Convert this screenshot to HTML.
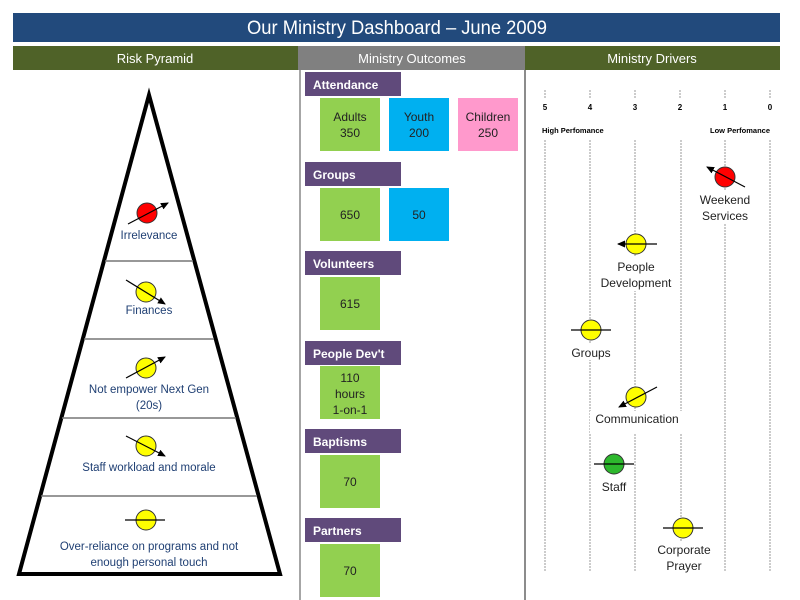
<!DOCTYPE html>
<html><head><meta charset="utf-8"><style>
html,body{margin:0;padding:0;background:#fff;}
svg{display:block;font-family:"Liberation Sans",sans-serif;}
</style></head><body>
<svg width="800" height="600" viewBox="0 0 800 600" xmlns="http://www.w3.org/2000/svg">
<defs>
<marker id="ah" markerWidth="8" markerHeight="8" refX="7" refY="4" orient="auto" markerUnits="userSpaceOnUse">
<path d="M0,0.5 L8,4 L0,7.5 z" fill="#000"/></marker>
</defs>
<rect x="0" y="0" width="800" height="600" fill="#fff"/>
<!-- title -->
<rect x="13" y="13" width="767" height="29" fill="#224a7c"/>
<text x="397" y="34" font-size="19" fill="#fff" text-anchor="middle" textLength="300" lengthAdjust="spacingAndGlyphs">Our Ministry Dashboard – June 2009</text>
<!-- section headers -->
<rect x="13" y="46" width="285" height="24" fill="#4f6228"/>
<rect x="298" y="46" width="227" height="24" fill="#808080"/>
<rect x="525" y="46" width="255" height="24" fill="#4f6228"/>
<text x="155" y="63" font-size="13" fill="#fff" text-anchor="middle">Risk Pyramid</text>
<text x="412" y="63" font-size="13" fill="#fff" text-anchor="middle">Ministry Outcomes</text>
<text x="652" y="63" font-size="13" fill="#fff" text-anchor="middle">Ministry Drivers</text>
<line x1="300" y1="70" x2="300" y2="600" stroke="#888" stroke-width="1.5"/>
<line x1="525" y1="70" x2="525" y2="600" stroke="#666" stroke-width="1.5"/>

<!-- pyramid -->
<polygon points="149,95 280,574 19,574" fill="#fff" stroke="#000" stroke-width="4" stroke-linejoin="miter"/>
<g stroke="#777" stroke-width="1.5">
<line x1="105" y1="261" x2="193" y2="261"/>
<line x1="84" y1="339" x2="214" y2="339"/>
<line x1="62" y1="418" x2="236" y2="418"/>
<line x1="41" y1="496" x2="257" y2="496"/>
</g>
<g fill="#1f3f73" font-size="11.5" text-anchor="middle">
<text x="149" y="239">Irrelevance</text>
<text x="149" y="314">Finances</text>
<text x="149" y="393">Not empower Next Gen</text>
<text x="149" y="409">(20s)</text>
<text x="149" y="471">Staff workload and morale</text>
<text x="149" y="550">Over-reliance on programs and not</text>
<text x="149" y="566">enough personal touch</text>
</g>
<g stroke="#333" stroke-width="1">
<circle cx="147" cy="213" r="10" fill="#f00"/>
<circle cx="146" cy="292" r="10" fill="#ff0"/>
<circle cx="146" cy="368" r="10" fill="#ff0"/>
<circle cx="146" cy="446" r="10" fill="#ff0"/>
<circle cx="146" cy="520" r="10" fill="#ff0"/>
</g>
<g stroke="#000" stroke-width="1.2">
<line x1="128" y1="224" x2="168" y2="203" marker-end="url(#ah)"/>
<line x1="126" y1="280" x2="165" y2="304" marker-end="url(#ah)"/>
<line x1="126" y1="378" x2="165" y2="357" marker-end="url(#ah)"/>
<line x1="126" y1="436" x2="165" y2="456" marker-end="url(#ah)"/>
<line x1="125" y1="520" x2="165" y2="520"/>
</g>

<!-- outcomes -->
<g fill="#604a7b">
<rect x="305" y="72" width="96" height="24"/>
<rect x="305" y="162" width="96" height="24"/>
<rect x="305" y="251" width="96" height="24"/>
<rect x="305" y="341" width="96" height="24"/>
<rect x="305" y="429" width="96" height="24"/>
<rect x="305" y="518" width="96" height="24"/>
</g>
<g fill="#fff" font-size="12" font-weight="bold">
<text x="313" y="89">Attendance</text>
<text x="313" y="179">Groups</text>
<text x="313" y="268">Volunteers</text>
<text x="313" y="358">People Dev't</text>
<text x="313" y="446">Baptisms</text>
<text x="313" y="535">Partners</text>
</g>
<rect x="320" y="98" width="60" height="53" fill="#92d050"/>
<rect x="389" y="98" width="60" height="53" fill="#00b0f0"/>
<rect x="458" y="98" width="60" height="53" fill="#ff99cc"/>
<rect x="320" y="188" width="60" height="53" fill="#92d050"/>
<rect x="389" y="188" width="60" height="53" fill="#00b0f0"/>
<rect x="320" y="277" width="60" height="53" fill="#92d050"/>
<rect x="320" y="366" width="60" height="53" fill="#92d050"/>
<rect x="320" y="455" width="60" height="53" fill="#92d050"/>
<rect x="320" y="544" width="60" height="53" fill="#92d050"/>
<g font-size="12" fill="#222" text-anchor="middle">
<text x="350" y="121">Adults</text><text x="350" y="137">350</text>
<text x="419" y="121">Youth</text><text x="419" y="137">200</text>
<text x="488" y="121">Children</text><text x="488" y="137">250</text>
<text x="350" y="219">650</text>
<text x="419" y="219">50</text>
<text x="350" y="308">615</text>
<text x="350" y="382">110</text><text x="350" y="398">hours</text><text x="350" y="414">1-on-1</text>
<text x="350" y="486">70</text>
<text x="350" y="575">70</text>
</g>

<!-- drivers -->
<g stroke="#999" stroke-width="1" stroke-dasharray="2,1">
<line x1="545" y1="90" x2="545" y2="99"/><line x1="590" y1="90" x2="590" y2="99"/>
<line x1="635" y1="90" x2="635" y2="99"/><line x1="680" y1="90" x2="680" y2="99"/>
<line x1="725" y1="90" x2="725" y2="99"/><line x1="770" y1="90" x2="770" y2="99"/>
<line x1="545" y1="140" x2="545" y2="571"/><line x1="590" y1="140" x2="590" y2="571"/>
<line x1="635" y1="140" x2="635" y2="571"/><line x1="681" y1="140" x2="681" y2="571"/>
<line x1="725" y1="140" x2="725" y2="571"/><line x1="770" y1="140" x2="770" y2="571"/>
</g>
<g font-size="8" font-weight="bold" fill="#000" text-anchor="middle">
<text x="545" y="110">5</text><text x="590" y="110">4</text><text x="635" y="110">3</text>
<text x="680" y="110">2</text><text x="725" y="110">1</text><text x="770" y="110">0</text>
</g>
<text x="542" y="133" font-size="7.5" font-weight="bold">High Perfomance</text>
<text x="770" y="133" font-size="7.5" font-weight="bold" text-anchor="end">Low Perfomance</text>
<!-- label backgrounds -->
<g fill="#fff">
<rect x="695" y="191" width="60" height="33"/>
<rect x="595" y="257" width="82" height="34"/>
<rect x="565" y="344" width="52" height="16"/>
<rect x="590" y="411" width="96" height="22"/>
<rect x="597" y="478" width="34" height="16"/>
<rect x="652" y="541" width="62" height="32"/>
</g>
<g font-size="12" fill="#222" text-anchor="middle">
<text x="725" y="204">Weekend</text><text x="725" y="220">Services</text>
<text x="636" y="271">People</text><text x="636" y="287">Development</text>
<text x="591" y="357">Groups</text>
<text x="637" y="423">Communication</text>
<text x="614" y="491">Staff</text>
<text x="684" y="554">Corporate</text><text x="684" y="570">Prayer</text>
</g>
<g stroke="#333" stroke-width="1">
<circle cx="725" cy="177" r="10" fill="#f00"/>
<circle cx="636" cy="244" r="10" fill="#ff0"/>
<circle cx="591" cy="330" r="10" fill="#ff0"/>
<circle cx="636" cy="397" r="10" fill="#ff0"/>
<circle cx="614" cy="464" r="10" fill="#2db82d"/>
<circle cx="683" cy="528" r="10" fill="#ff0"/>
</g>
<g stroke="#000" stroke-width="1.2">
<line x1="745" y1="187" x2="707" y2="167" marker-end="url(#ah)"/>
<line x1="657" y1="244" x2="618" y2="244" marker-end="url(#ah)"/>
<line x1="571" y1="330" x2="611" y2="330"/>
<line x1="657" y1="387" x2="619" y2="407" marker-end="url(#ah)"/>
<line x1="594" y1="464" x2="634" y2="464"/>
<line x1="663" y1="528" x2="703" y2="528"/>
</g>
</svg>
</body></html>
